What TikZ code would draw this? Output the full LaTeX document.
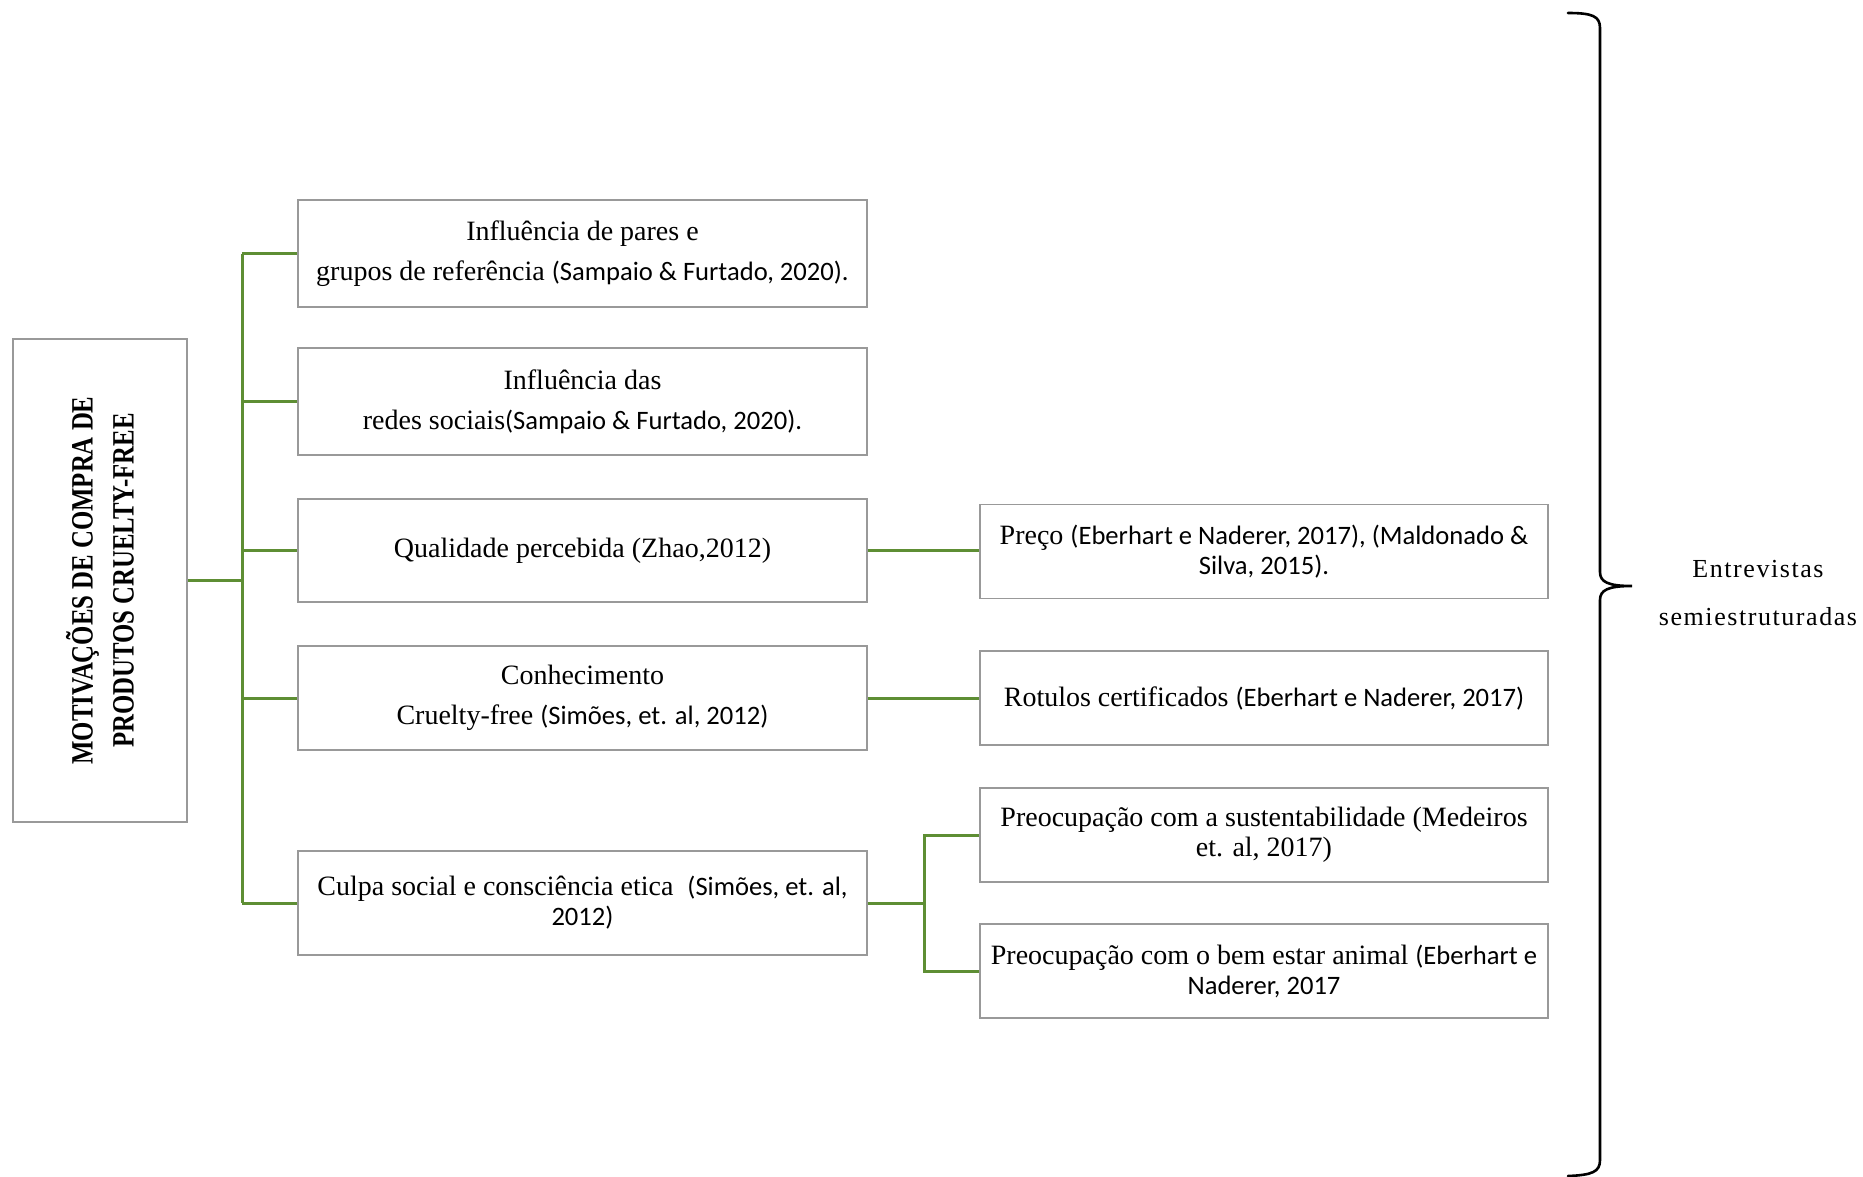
\documentclass[tikz,border=0pt]{standalone}
\usepackage{fontspec}
\setmainfont{Liberation Serif}
\newfontfamily\sfc{Carlito}[Scale=0.95]
\newfontfamily\titlefont{Liberation Serif}[FakeStretch=0.8]
\newfontfamily\spacedfont{Liberation Serif}[LetterSpace=6]
\definecolor{brgreen}{RGB}{94,142,52}
\begin{document}
\begin{tikzpicture}[x=1pt,y=-1pt,
  box/.style={draw=black!40, line width=1.6pt, fill=white, inner sep=0pt, align=center, anchor=center},
  midbox/.style={box, minimum width=569pt},
  rightbox/.style={box, minimum width=568pt, minimum height=94pt},
  conn/.style={draw=brgreen, line width=3pt},
  body/.style={font=\fontsize{28}{40}\selectfont},
  tight/.style={font=\fontsize{28}{30}\selectfont}]
\useasboundingbox (0,0) rectangle (1863,1176);

% left title box
\node[box, minimum width=174pt, minimum height=483pt] (L) at (100,580.5) {};
\node[rotate=90, align=center, font=\titlefont\bfseries\fontsize{31}{41}\selectfont] (Lt) at (L.center)
  {MOTIVAÇÕES DE COMPRA DE\\PRODUTOS CRUELTY-FREE};

% middle column
\node[midbox, body, minimum height=107pt] (M1) at (582.5,253.5)
  {Influência de pares e\\grupos de referência {\sfc(Sampaio \& Furtado, 2020).}};
\node[midbox, body, minimum height=107pt] (M2) at (582.5,401.5)
  {Influência das\\redes sociais{\sfc(Sampaio \& Furtado, 2020).}};
\node[midbox, body, minimum height=103pt] (M3) at (582.5,550.5)
  {Qualidade percebida (Zhao,2012)};
\node[midbox, body, minimum height=104pt] (M4) at (582.5,698)
  {Conhecimento\\Cruelty-free {\sfc(Simões, et. al, 2012)}};
\node[midbox, tight, minimum height=104pt] (M5) at (582.5,903)
  {Culpa social e consciência etica\ \ {\sfc(Simões, et. al,}\\{\sfc 2012)}};

% right column
\node[rightbox, tight] (R1) at (1264,551.5)
  {Preço {\sfc(Eberhart e Naderer, 2017), (Maldonado \&}\\{\sfc Silva, 2015).}};
\node[rightbox, tight] (R2) at (1264,698)
  {Rotulos certificados {\sfc(Eberhart e Naderer, 2017)}};
\node[rightbox, tight] (R3) at (1264,835)
  {Preocupação com a sustentabilidade (Medeiros\\et. al, 2017)};
\node[rightbox, tight] (R4) at (1264,971)
  {Preocupação com o bem estar animal {\sfc(Eberhart e}\\{\sfc Naderer, 2017}};

% connectors
\coordinate (tx) at (242,0);
\coordinate (jx) at (924,0);
\draw[conn] (L.east) -- (L.east -| tx);
\draw[conn] (M1.west -| tx) -- (M5.west -| tx);
\foreach \m in {M1,M2,M3,M4,M5} {\draw[conn] (\m.west) -- (\m.west -| tx);}
\draw[conn] (M3.east) -- (M3.east -| R1.west);
\draw[conn] (M4.east) -- (M4.east -| R2.west);
\draw[conn] (M5.east) -- (M5.east -| jx);
\draw[conn] (R3.west) -- (R3.west -| jx) -- (R4.west -| jx) -- (R4.west);

% brace
\draw[line width=2.6pt, line cap=round] (1568,13) .. controls (1592,13) and (1600,16) .. (1600,28)
  -- (1600,572) .. controls (1600,582) and (1608,586) .. (1632,586)
  .. controls (1608,586) and (1600,590) .. (1600,600)
  -- (1600,1160) .. controls (1600,1172) and (1592,1175) .. (1568,1176);

\node[align=center, font=\spacedfont\fontsize{26}{48}\selectfont] (E) at (1758,593)
  {Entrevistas\\semiestruturadas};
\end{tikzpicture}
\end{document}
